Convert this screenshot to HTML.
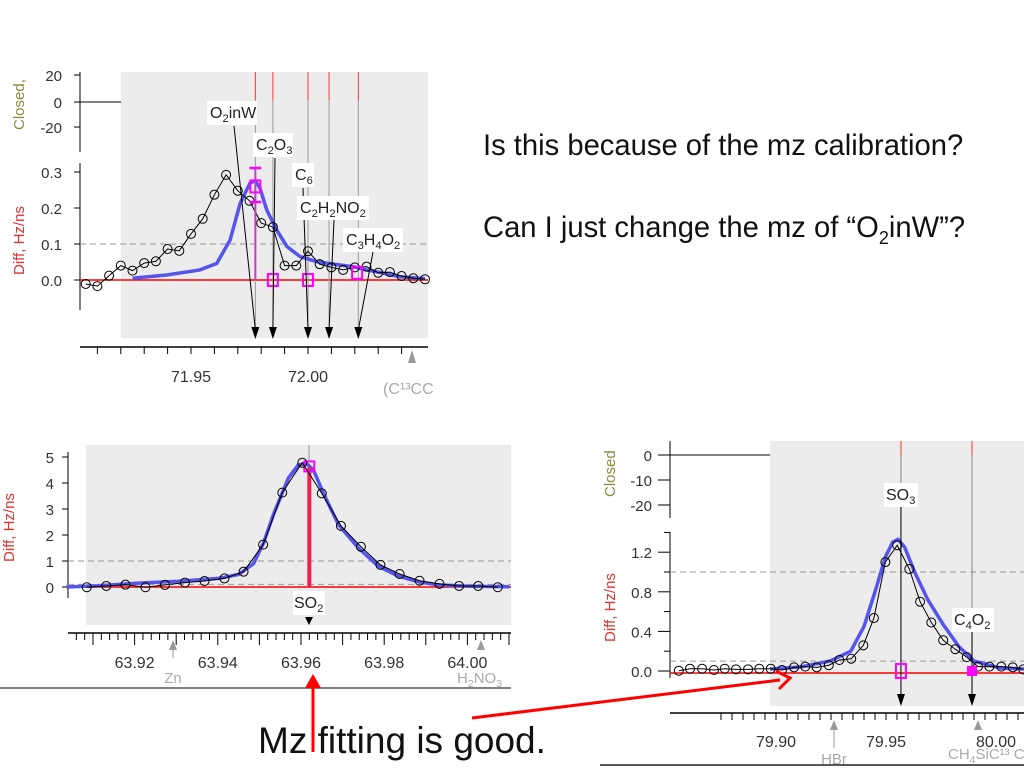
<!DOCTYPE html>
<html><head><meta charset="utf-8">
<style>
body{margin:0;background:#fff;width:1024px;height:768px;overflow:hidden;font-family:"Liberation Sans",sans-serif}
svg{position:absolute;left:0;top:0}
.q{position:absolute;font-size:29.2px;color:#111;white-space:nowrap}
</style></head><body>
<div class="q" style="left:483px;top:130px">Is this because of the mz calibration?</div>
<div class="q" style="left:483px;top:212px">Can I just change the mz of “O<sub style="font-size:18px">2</sub>inW”?</div>
<svg id="s" width="1024" height="768" font-family="Liberation Sans, sans-serif"></svg>
<script>
// ---- Chart 1 data (mz 71.9x) ----
const c1Mz=[71.905,71.910,71.915,71.920,71.925,71.930,71.935,71.940,71.945,71.950,71.955,71.960,71.965,71.970,71.975,71.980,71.985,71.990,71.995,72.000,72.005,72.010,72.015,72.020,72.025,72.030,72.035,72.040,72.045,72.050];
const c1Diff=[-0.011,-0.017,0.012,0.040,0.026,0.047,0.052,0.086,0.081,0.128,0.170,0.237,0.292,0.248,0.220,0.158,0.147,0.040,0.040,0.080,0.044,0.035,0.028,0.035,0.037,0.020,0.022,0.011,0.005,0.002];
const c1FitMz=[71.925,71.9396,71.9538,71.961,71.9667,71.971,71.9752,71.9774,71.9795,71.9824,71.9866,71.991,71.9966,72.0037,72.0108,72.0194,72.025,72.0322,72.0393,72.05];
const c1Fit=[0.005,0.014,0.028,0.046,0.111,0.213,0.269,0.276,0.255,0.194,0.139,0.093,0.065,0.051,0.044,0.037,0.028,0.019,0.009,0.004];
const c1YTicks=[0.0,0.1,0.2,0.3];
const c1XTicks=[71.95,72.00];
const c1Peaks=["O2inW","C2O3","C6","C2H2NO2","C3H4O2"];
const c1PeakMz=[71.9775,71.985,72.000,72.009,72.0215];
const c1SqMz=[71.9775,71.985,72.000,72.021];
const c1SqVal=[0.26,0.0,0.0,0.02];
// ---- Chart 2 data (mz 63.9x) ----
const c2Mz=[63.9085,63.9132,63.9178,63.9226,63.9273,63.9321,63.9368,63.9416,63.9462,63.9509,63.9555,63.9603,63.9650,63.9696,63.9744,63.9791,63.9837,63.9885,63.9933,63.9980,64.0026,64.0073];
const c2Diff=[-0.01,0.04,0.09,-0.01,0.08,0.17,0.23,0.33,0.59,1.63,3.63,4.78,3.6,2.35,1.55,0.85,0.5,0.24,0.12,0.04,0.04,-0.01];
const c2FitMz=[63.9036,63.9113,63.9209,63.9305,63.9401,63.9450,63.9486,63.9510,63.9534,63.9570,63.9594,63.9613,63.9630,63.9654,63.9690,63.9738,63.9786,63.9834,63.9882,63.9930,64.0002,64.0101];
const c2Fit=[0,0.05,0.15,0.22,0.33,0.48,0.9,1.7,2.8,4.2,4.7,4.75,4.5,3.6,2.4,1.5,0.8,0.42,0.2,0.08,0.03,0.01];
const c2YTicks=[0,1,2,3,4,5];
const c2XTicks=[63.92,63.94,63.96,63.98,64.00];
const c2StemMz=63.962, c2StemVal=4.6;
// ---- Chart 3 data (mz 79.9x) ----
const c3Mz=[79.8558,79.8609,79.8664,79.8718,79.8767,79.8818,79.8873,79.8924,79.8976,79.9027,79.9082,79.9133,79.9185,79.9240,79.9288,79.9342,79.9397,79.9445,79.9497,79.9551,79.9606,79.9655,79.9706,79.9760,79.9815,79.9867,79.9918,79.9970,80.0024,80.0076,80.0124];
const c3Diff=[0.003,0.023,0.023,0.01,0.023,0.017,0.017,0.023,0.023,0.01,0.037,0.044,0.037,0.058,0.111,0.124,0.259,0.535,1.1,1.27,1.03,0.7,0.49,0.31,0.22,0.14,0.044,0.044,0.044,0.037,0.017];
const c3FitMz=[79.8973,79.9109,79.9245,79.9340,79.9400,79.9450,79.9497,79.9530,79.9555,79.9585,79.9630,79.9690,79.9760,79.9830,79.9900,80.0018,80.0127];
const c3Fit=[0.02,0.04,0.1,0.2,0.45,0.8,1.15,1.3,1.33,1.25,1.0,0.72,0.47,0.25,0.1,0.03,0.02];
const c3YTicks=[0.0,0.4,0.8,1.2];
const c3XTicks=[79.90,79.95,80.00];
const c3PeakMz=[79.9568,79.9891];

const S=document.getElementById('s');
const NS='http://www.w3.org/2000/svg';
function el(t,a,txt){const e=document.createElementNS(NS,t);for(const k in a)e.setAttribute(k,a[k]);if(txt!==undefined)e.textContent=txt;S.appendChild(e);return e;}
function mkX(m0,p0,k){return v=>p0+(v-m0)*k;}
function mkY(v0,p0,k){return v=>p0-(v-v0)*k;}
function label(px,py,parts,size,fill){const te=el('text',{x:px,y:py,'font-size':size,fill:fill||'#222'});parts.forEach(p=>{const ts=document.createElementNS(NS,'tspan');if(typeof p==='string'){ts.textContent=p;te.appendChild(ts);}else{ts.textContent=p.s;ts.setAttribute('font-size',size*0.7);ts.setAttribute('dy',4);te.appendChild(ts);const b=document.createElementNS(NS,'tspan');b.setAttribute('dy',-4);b.textContent='\u200b';te.appendChild(b);}});return te;}

// ===== Chart 1 =====
const x1=mkX(71.95,191,2340), y1=mkY(0,280,360);
let r=el('rect',{x:121,y:72,width:307,height:266,fill:'#ececec'});

el('line',{x1:80,y1:72,x2:80,y2:152,stroke:'#000'});
el('line',{x1:80,y1:102,x2:121,y2:102,stroke:'#000'});
[[20,75],[0,102],[-20,127]].forEach(([t,yy])=>{el('line',{x1:74,y1:yy,x2:80,y2:yy,stroke:'#000'});el('text',{x:62,y:yy+6,'font-size':15,'text-anchor':'end',fill:'#333'},t);});
let t=el('text',{x:0,y:0,'font-size':15,fill:'#8a8a3a',transform:'translate(24,130) rotate(-90)'},'Closed,');

el('line',{x1:80,y1:163,x2:80,y2:310,stroke:'#000'});
c1YTicks.forEach(v=>{el('line',{x1:74,y1:y1(v),x2:80,y2:y1(v),stroke:'#000'});el('text',{x:62,y:y1(v)+6,'font-size':15,'text-anchor':'end',fill:'#333'},v.toFixed(1));});
t=el('text',{x:0,y:0,'font-size':15,fill:'#e53030',transform:'translate(24,275) rotate(-90)'},'Diff, Hz/ns');

el('line',{x1:80,y1:y1(0.1),x2:428,y2:y1(0.1),stroke:'#999','stroke-dasharray':'6,4'});
el('line',{x1:80,y1:y1(0),x2:428,y2:y1(0),stroke:'#f00','stroke-width':1.5});
c1PeakMz.forEach((m,i)=>{el('line',{x1:x1(m),y1:72,x2:x1(m),y2:100,stroke:'#f33'});el('line',{x1:x1(m),y1:100,x2:x1(m),y2:338,stroke:'#999'});});
el('polyline',{points:c1FitMz.map((m,i)=>x1(m)+','+y1(c1Fit[i])).join(' '),fill:'none',stroke:'#5555ee','stroke-width':3.5,});
el('polyline',{points:c1Mz.map((m,i)=>x1(m)+','+y1(c1Diff[i])).join(' '),fill:'none',stroke:'#000','stroke-width':1});
c1Mz.forEach((m,i)=>{const c=el('circle',{cx:x1(m),cy:y1(c1Diff[i]),r:4.5,fill:'none',stroke:'#000'});});
el('line',{x1:x1(71.9775),y1:168,x2:x1(71.9775),y2:280,stroke:'#c040c0','stroke-width':2});
el('line',{x1:x1(71.9775)-6,y1:168,x2:x1(71.9775)+6,y2:168,stroke:'#f0f','stroke-width':2.5});
el('line',{x1:x1(71.9775)-6,y1:202,x2:x1(71.9775)+6,y2:202,stroke:'#f0f','stroke-width':2.5});
c1SqMz.forEach((m,i)=>el('rect',{x:x1(m)-5,y:y1(c1SqVal[i])-6,width:10,height:12,fill:'none',stroke:'#f0f','stroke-width':2}));
const lb=[['O',{s:'2'},'inW'],['C',{s:'2'},'O',{s:'3'}],['C',{s:'6'}],['C',{s:'2'},'H',{s:'2'},'NO',{s:'2'}],['C',{s:'3'},'H',{s:'4'},'O',{s:'2'}]];
const lw=[50,40,22,72,60];
const lpos=[[210,118,234,126],[256,150,275,158],[295,180,303,188],[300,213,334,220],[346,245,373,252]];
c1PeakMz.forEach((m,i)=>{const [lx,ly,ax,ay]=lpos[i];el('rect',{x:lx-3,y:ly-17,width:lw[i],height:24,fill:'#fff'});
el('line',{x1:ax,y1:ay,x2:x1(m),y2:330,stroke:'#000'});
el('polygon',{points:`${x1(m)-4},327 ${x1(m)+4},327 ${x1(m)},339`,fill:'#000'});
const te=label(lx,ly,lb[i],16);});
el('line',{x1:80,y1:347,x2:428,y2:347,stroke:'#000','stroke-width':1.5});
for(let m=71.91;m<=72.05;m+=0.01){el('line',{x1:x1(m),y1:347,x2:x1(m),y2:354,stroke:'#000'});}
c1XTicks.forEach(v=>el('text',{x:x1(v),y:382,'font-size':16,'text-anchor':'middle',fill:'#333'},v.toFixed(2)));
el('text',{x:383,y:394,'font-size':16,fill:'#aaa'},'(C¹³CC');
el('polygon',{points:'408,363 416,363 412,350',fill:'#999'});

// ===== Chart 2 =====
const x2=mkX(63.96,301,4160), y2=mkY(0,587,26);
r=el('rect',{x:86,y:445,width:425,height:180,fill:'#ececec'});

el('line',{x1:68,y1:452,x2:68,y2:598,stroke:'#000'});
c2YTicks.forEach(v=>{el('line',{x1:62,y1:y2(v),x2:68,y2:y2(v),stroke:'#000'});el('text',{x:54,y:y2(v)+6,'font-size':15,'text-anchor':'end',fill:'#333'},v);});
t=el('text',{x:0,y:0,'font-size':15,fill:'#e53030',transform:'translate(14,562) rotate(-90)'},'Diff, Hz/ns');

el('line',{x1:68,y1:y2(1),x2:511,y2:y2(1),stroke:'#999','stroke-dasharray':'6,4'});
el('line',{x1:68,y1:y2(0.1),x2:511,y2:y2(0.1),stroke:'#999','stroke-dasharray':'6,4'});
el('line',{x1:68,y1:y2(0),x2:511,y2:y2(0),stroke:'#f00','stroke-width':1.5});
el('line',{x1:309,y1:445,x2:309,y2:462,stroke:'#999'});
el('polyline',{points:c2FitMz.map((m,i)=>x2(m)+','+y2(c2Fit[i])).join(' '),fill:'none',stroke:'#5555ee','stroke-width':3.5,});
el('line',{x1:x2(c2StemMz),y1:y2(0),x2:x2(c2StemMz),y2:y2(c2StemVal),stroke:'#f02050','stroke-width':4,});
el('rect',{x:x2(c2StemMz)-5,y:y2(c2StemVal)-6,width:10,height:10,fill:'none',stroke:'#f0f','stroke-width':2});
el('polyline',{points:c2Mz.map((m,i)=>x2(m)+','+y2(c2Diff[i])).join(' '),fill:'none',stroke:'#000','stroke-width':1});
c2Mz.forEach((m,i)=>{const c=el('circle',{cx:x2(m),cy:y2(c2Diff[i]),r:4.5,fill:'none',stroke:'#000'});});
el('rect',{x:293,y:591,width:32,height:24,fill:'#fff'});
label(294,608,['SO',{s:'2'}],16);
el('polygon',{points:'305,617 313,617 309,625',fill:'#000'});
el('line',{x1:68,y1:633,x2:511,y2:633,stroke:'#000','stroke-width':1.5});
for(let m=63.906;m<=64.011;m+=0.002){const major=Math.abs(Math.round(m*100)-m*100)<0.01;el('line',{x1:x2(m),y1:633,x2:x2(m),y2:major?645:640,stroke:'#000'});}
c2XTicks.forEach(v=>el('text',{x:x2(v),y:668,'font-size':16,'text-anchor':'middle',fill:'#333'},v.toFixed(2)));
el('line',{x1:173,y1:658,x2:173,y2:642,stroke:'#999'});el('polygon',{points:'169,650 177,650 173,640',fill:'#999'});
el('text',{x:173,y:683,'font-size':15,'text-anchor':'middle',fill:'#aaa'},'Zn');
el('polygon',{points:'477,650 485,650 481,640',fill:'#999'});
label(457,683,['H',{s:'2'},'NO',{s:'3'}],15,'#aaa');
el('line',{x1:0,y1:688,x2:511,y2:688,stroke:'#000'});

// ===== Chart 3 =====
const x3=mkX(79.95,886,2200), y3=mkY(0,671,99);
r=el('rect',{x:770,y:441,width:254,height:265,fill:'#ececec'});

el('line',{x1:670,y1:441,x2:670,y2:518,stroke:'#000'});
el('line',{x1:670,y1:455,x2:770,y2:455,stroke:'#000'});
[[0,455],[-10,480],[-20,505]].forEach(([tt,yy])=>{el('line',{x1:658,y1:yy,x2:670,y2:yy,stroke:'#000'});el('text',{x:652,y:yy+6,'font-size':15,'text-anchor':'end',fill:'#333'},tt);});
t=el('text',{x:0,y:0,'font-size':15,fill:'#8a8a3a',transform:'translate(615,497) rotate(-90)'},'Closed');

el('line',{x1:670,y1:532,x2:670,y2:678,stroke:'#000'});
[0,0.2,0.4,0.6,0.8,1.0,1.2,1.4].forEach((v,i)=>{el('line',{x1:i%2==0?658:664,y1:y3(v),x2:670,y2:y3(v),stroke:'#000'});});
c3YTicks.forEach(v=>el('text',{x:652,y:y3(v)+6,'font-size':15,'text-anchor':'end',fill:'#333'},v.toFixed(1)));
t=el('text',{x:0,y:0,'font-size':15,fill:'#e53030',transform:'translate(615,642) rotate(-90)'},'Diff, Hz/ns');

el('line',{x1:670,y1:y3(1),x2:1024,y2:y3(1),stroke:'#999','stroke-dasharray':'6,4'});
el('line',{x1:670,y1:y3(0.1),x2:1024,y2:y3(0.1),stroke:'#999','stroke-dasharray':'6,4'});
el('line',{x1:670,y1:y3(0)+2,x2:1024,y2:y3(0)+2,stroke:'#f00','stroke-width':1.5});
c3PeakMz.forEach(m=>{el('line',{x1:x3(m),y1:441,x2:x3(m),y2:455,stroke:'#f33'});el('line',{x1:x3(m),y1:455,x2:x3(m),y2:700,stroke:'#888'});});
el('polyline',{points:c3FitMz.map((m,i)=>x3(m)+','+y3(c3Fit[i])).join(' '),fill:'none',stroke:'#5555ee','stroke-width':3.5,});
el('polyline',{points:c3Mz.map((m,i)=>x3(m)+','+y3(c3Diff[i])).join(' '),fill:'none',stroke:'#000','stroke-width':1});
c3Mz.forEach((m,i)=>{const c=el('circle',{cx:x3(m),cy:y3(c3Diff[i]),r:4.5,fill:'none',stroke:'#000'});});
el('line',{x1:x3(c3PeakMz[0]),y1:500,x2:x3(c3PeakMz[0]),y2:700,stroke:'#000'});
el('line',{x1:x3(c3PeakMz[1]),y1:628,x2:x3(c3PeakMz[1]),y2:700,stroke:'#000'});
el('rect',{x:x3(c3PeakMz[0])-5,y:664,width:10,height:14,fill:'none',stroke:'#f0f','stroke-width':2});
el('rect',{x:x3(c3PeakMz[1])-5,y:666,width:10,height:10,fill:'#f0f'});
el('rect',{x:884,y:483,width:34,height:24,fill:'#fff'});
label(886,500,['SO',{s:'3'}],16);
el('rect',{x:952,y:608,width:42,height:24,fill:'#fff'});
label(954,625,['C',{s:'4'},'O',{s:'2'}],16);
c3PeakMz.forEach(m=>el('polygon',{points:`${x3(m)-4},694 ${x3(m)+4},694 ${x3(m)},706`,fill:'#000'}));
el('line',{x1:670,y1:713,x2:1024,y2:713,stroke:'#000','stroke-width':1.5});
for(let i=0;i<=32;i++){const m=79.875+i*0.005;el('line',{x1:x3(m),y1:713,x2:x3(m),y2:720,stroke:'#000'});}
c3XTicks.forEach(v=>el('text',{x:x3(v),y:747,'font-size':16,'text-anchor':'middle',fill:'#333'},v.toFixed(2)));
el('line',{x1:834,y1:748,x2:834,y2:722,stroke:'#999'});el('polygon',{points:'830,730 838,730 834,720',fill:'#999'});
el('text',{x:834,y:764,'font-size':15,'text-anchor':'middle',fill:'#aaa'},'HBr');
el('polygon',{points:'974,730 982,730 978,720',fill:'#999'});
label(948,759,['CH',{s:'4'},'SiC¹³ C'],15,'#aaa');
el('line',{x1:600,y1:765,x2:1024,y2:765,stroke:'#222','stroke-width':1.5});

// ===== Annotations =====
el('line',{x1:313,y1:752,x2:313,y2:684,stroke:'#f00','stroke-width':3});
el('polygon',{points:'305,688 321,688 313,674',fill:'#f00'});
el('line',{x1:472,y1:718,x2:780,y2:680,stroke:'#f00','stroke-width':3,});
el('polyline',{points:'776,671 790,678 779,689',fill:'none',stroke:'#f00','stroke-width':3});
t=el('text',{x:258,y:753,'font-size':37,fill:'#111'},'Mz fitting is good.');

</script>
</body></html>
